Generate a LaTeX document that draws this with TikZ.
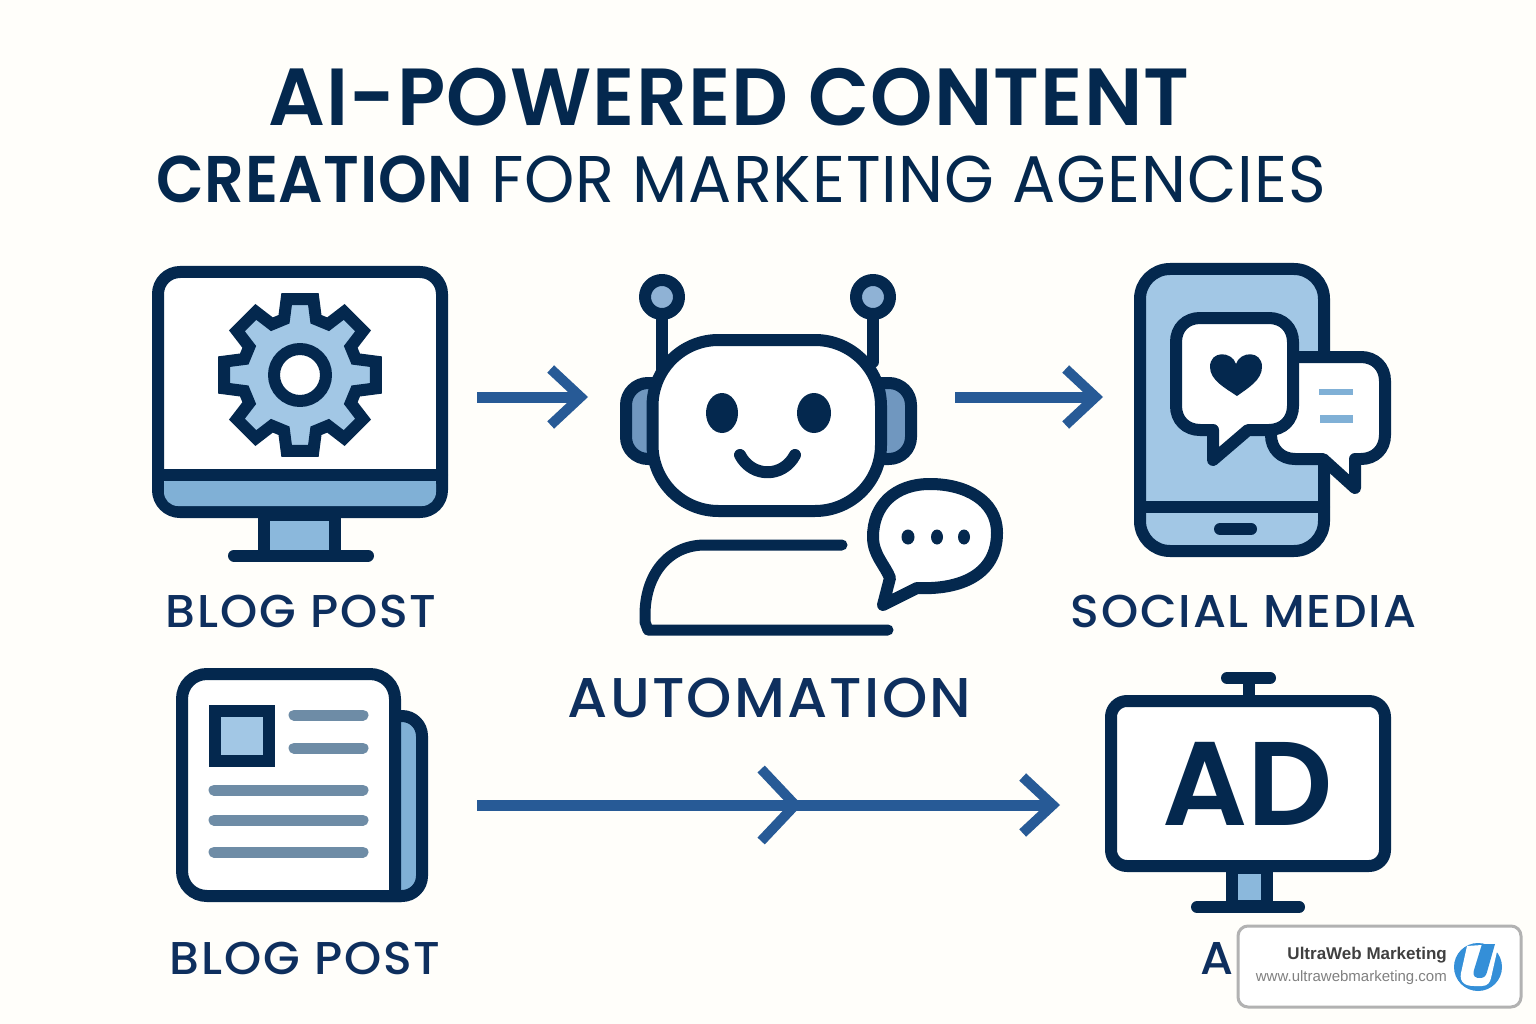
\documentclass[tikz,border=0pt]{standalone}
\usepackage{fontspec}
\usepackage{tikz}
\usetikzlibrary{arrows.meta}
\setmainfont{Poppins}
\newfontfamily\titlefont{Poppins SemiBold}[LetterSpace=1.5,FakeStretch=0.98]
\newfontfamily\subboldfont{Poppins SemiBold}[LetterSpace=1,FakeStretch=0.94]
\newfontfamily\subfont{Poppins}[LetterSpace=1.5,FakeStretch=0.97]
\newfontfamily\labelfont{Poppins Medium}[LetterSpace=4,FakeStretch=1.03]
\newfontfamily\adfont{Poppins SemiBold}
\newfontfamily\markfont{Liberation Sans}
\definecolor{pagebg}{HTML}{FFFEFA}
\definecolor{navy}{HTML}{04284E}
\definecolor{labelblue}{HTML}{0E2F5E}
\definecolor{arrowblue}{HTML}{275A96}
\definecolor{paleblue}{HTML}{A2C7E5}
\definecolor{midblue}{HTML}{80B0D6}
\definecolor{neckblue}{HTML}{8BB8DC}
\definecolor{earblue}{HTML}{7097BF}
\definecolor{knobblue}{HTML}{8FB2D5}
\definecolor{slate}{HTML}{6E8CA6}
\definecolor{logoblue}{HTML}{348FD8}
\tikzset{
    icon/.style={draw=navy,line width=12pt,line join=round,line cap=round},
    bar/.style={draw=slate,line width=11pt,line cap=round},
    flow/.style={draw=arrowblue,line width=11pt,-{Straight Barb[length=30pt,width=56pt,line width=10pt]}},
    bigflow/.style={draw=arrowblue,line width=11pt,-{Straight Barb[length=34pt,width=72pt,line width=10pt]}},
    tag/.style={text=labelblue,font=\labelfont\fontsize{46}{50}\selectfont,inner sep=0pt},
}
\begin{document}
\begin{tikzpicture}[x=1pt,y=-1pt]
    \path[fill=pagebg,use as bounding box] (0,0) rectangle (1536,1024);

    \node[text=navy,font=\titlefont\fontsize{81}{90}\selectfont,inner sep=0pt] (heading) at (729,97) {AI-POWERED CONTENT};
    \node[text=navy,font=\subfont\fontsize{66}{72}\selectfont,inner sep=0pt] (subheading) at (741,179) {{\subboldfont CREATION} FOR MARKETING AGENCIES};

    % monitor
    \draw[icon,fill=neckblue] (264,515) rectangle (335,556);
    \draw[icon] (234,555.5) -- (368,555.5);
    \draw[icon,fill=white,rounded corners=22] (158,272) rectangle (442,512);
    \fill[midblue,rounded corners=14] (164,470) -- (436,470) -- (436,506) -- (164,506) -- cycle;
    \draw[icon] (158,475) -- (442,475);
    \begin{scope}[shift={(300,375)}]
        \draw[icon,fill=paleblue,line join=miter] (-10:77)
            \foreach \a in {0,45,...,315} { -- (\a+10:77) -- (\a+16:58) -- (\a+29:58) -- (\a+35:77) } -- cycle;
        \draw[icon,fill=white] (0,0) circle (26);
    \end{scope}

    % robot
    \draw[icon] (662,297) -- (662,375);
    \draw[icon] (873,297) -- (873,362);
    \draw[icon,fill=knobblue] (662,297) circle (17);
    \draw[icon,fill=knobblue] (873,297) circle (17);
    \draw[icon,fill=earblue,rounded corners=22] (626,383) rectangle (911,459);
    \draw[icon,fill=white,rounded corners=66] (652.5,340) rectangle (881,511);
    \fill[navy] (722,413) ellipse (16 and 20);
    \fill[navy] (814,413) ellipse (17 and 20);
    \draw[icon] (740,455) .. controls (752,478) and (783,478) .. (795,455);
    \draw[icon,line width=11pt] (842,545) -- (705,545) .. controls (668,545) and (645,575) .. (645,615) -- (645,622) -- (648,630) -- (888,630);
    \draw[icon,fill=white] (883,605) -- (917,588) .. controls (960,590) and (997,575) .. (997,533) .. controls (997,500) and (965,484) .. (930,484) .. controls (895,484) and (873,505) .. (873,537) .. controls (873,555) and (885,565) .. (890,578) -- cycle;
    \fill[navy] (908,537) ellipse (6.5 and 7.5);
    \fill[navy] (937,537) ellipse (6 and 7.5);
    \fill[navy] (964,537) ellipse (6 and 7.5);

    % phone
    \draw[icon,fill=paleblue,rounded corners=30] (1140,269) rectangle (1324,551);
    \draw[icon] (1140,507) -- (1324,507);
    \draw[icon] (1220,529) -- (1251,529);
    \draw[icon,fill=white] (1323,459) -- (1355,488) -- (1355,459) -- (1361,459) .. controls (1375,459) and (1385,449) .. (1385,435) -- (1385,381) .. controls (1385,367) and (1375,357) .. (1361,357) -- (1295,357) .. controls (1281,357) and (1271,367) .. (1271,381) -- (1271,435) .. controls (1271,449) and (1281,459) .. (1295,459) -- cycle;
    \draw[icon,fill=white] (1213,430) -- (1213,460) -- (1248,430) -- (1269,430) .. controls (1283,430) and (1293,420) .. (1293,406) -- (1293,342) .. controls (1293,328) and (1283,318) .. (1269,318) -- (1200,318) .. controls (1186,318) and (1176,328) .. (1176,342) -- (1176,406) .. controls (1176,420) and (1186,430) .. (1200,430) -- cycle;
    \fill[navy] (1237,396) .. controls (1225,388) and (1210,380) .. (1210,367) .. controls (1210,350) and (1232,351) .. (1236,364) .. controls (1240,351) and (1262,350) .. (1262,367) .. controls (1262,380) and (1248,388) .. (1237,396) -- cycle;
    \fill[midblue] (1319,389) rectangle (1353,395);
    \fill[midblue] (1320,415) rectangle (1353,423);

    % newspaper
    \draw[icon,fill=midblue,rounded corners=20] (360,716) rectangle (422,896);
    \draw[icon,fill=white,line join=miter] (395,896) -- (207,896) .. controls (193,896) and (182,885) .. (182,871) -- (182,699) .. controls (182,685) and (193,674) .. (207,674) -- (370,674) .. controls (384,674) and (395,685) .. (395,699) -- cycle;
    \draw[icon,fill=paleblue,line join=miter] (215,711) rectangle (269,761);
    \draw[bar] (294,715) -- (363,715);
    \draw[bar] (294,748) -- (363,748);
    \draw[bar] (214,790) -- (363,790);
    \draw[bar] (214,820) -- (363,820);
    \draw[bar] (214,852) -- (363,852);

    % ad screen
    \draw[icon,fill=neckblue] (1232,868) rectangle (1267,906);
    \draw[icon] (1197,907) -- (1299,907);
    \draw[icon] (1248.5,678) -- (1248.5,700);
    \draw[icon] (1227,678) -- (1270,678);
    \draw[icon,fill=white,rounded corners=16] (1111,701) rectangle (1385,866);
    \node[text=navy,font=\adfont\fontsize{119}{120}\selectfont,inner sep=0pt] (adword) at (1248,784) {AD};

    % arrows
    \coordinate (monitorout) at (477,397);
    \coordinate (robotin) at (588,397);
    \coordinate (robotout) at (955,397);
    \coordinate (phonein) at (1103,397);
    \coordinate (paperout) at (477,805);
    \coordinate (midpoint) at (802,805);
    \coordinate (screenin) at (1060,805);
    \draw[flow] (monitorout) -- (robotin);
    \draw[flow] (robotout) -- (phonein);
    \draw[flow] (paperout) -- (screenin);
    \draw[bigflow] (paperout) -- (midpoint);

    % captions
    \node[tag] (bloglabel) at (301,611) {BLOG POST};
    \node[tag] (sociallabel) at (1243.5,611) {SOCIAL MEDIA};
    \node[tag,font=\labelfont\fontsize{56}{60}\selectfont] (autolabel) at (769.5,698) {AUTOMATION};
    \node[tag] (paperlabel) at (305,958) {BLOG POST};
    \node[tag] (adlabel) at (1217,958) {A};

    % badge
    \draw[draw=black!30,line width=3pt,fill=white,rounded corners=10] (1238,926) rectangle (1521,1007);
    \node[anchor=east,text=black!75,font=\markfont\bfseries\fontsize{17}{20}\selectfont,inner sep=0pt] (brand) at (1447,955) {UltraWeb Marketing};
    \node[anchor=east,text=black!50,font=\markfont\fontsize{15}{18}\selectfont,inner sep=0pt] (brandurl) at (1447,978) {www.ultrawebmarketing.com};
    \fill[logoblue] (1478,967) circle (24);
    \fill[white] (1467,946) -- (1461,973) .. controls (1459,983) and (1466,986) .. (1474,986) -- (1482,986) .. controls (1488,986) and (1490,982) .. (1491,978) -- (1498,947) -- (1493,945) -- (1482,945) -- cycle;
    \fill[logoblue] (1482,944) -- (1474,970) .. controls (1472,977) and (1476,978) .. (1480,978) .. controls (1484,978) and (1486,976) .. (1487,972) -- (1495,944) -- cycle;
\end{tikzpicture}
\end{document}
